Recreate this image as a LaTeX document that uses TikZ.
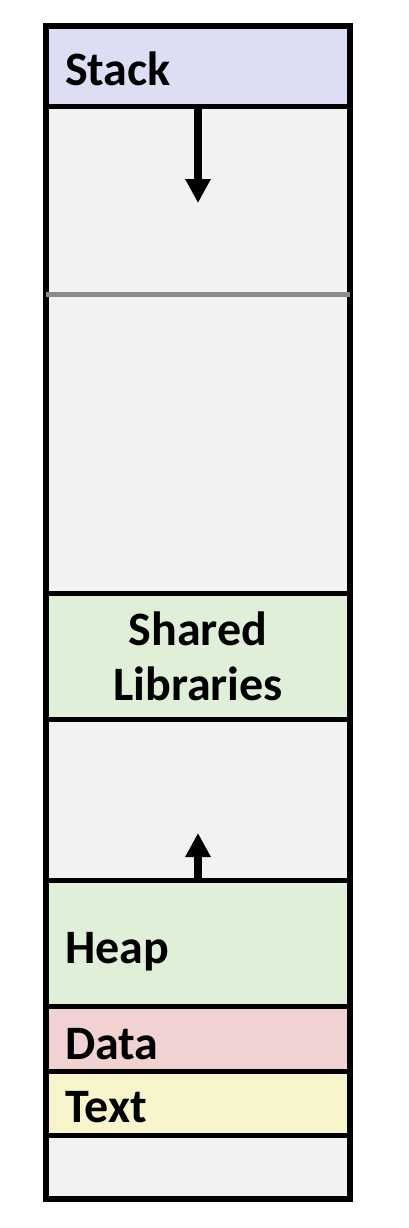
\documentclass[tikz,border=0pt]{standalone}
\usepackage{fontspec}
\setmainfont{Carlito}
\usetikzlibrary{arrows.meta}
\definecolor{stackc}{RGB}{221,221,243}
\definecolor{freec}{RGB}{242,242,242}
\definecolor{greenc}{RGB}{223,239,216}
\definecolor{datac}{RGB}{241,210,211}
\definecolor{textc}{RGB}{248,244,204}
\definecolor{markc}{RGB}{140,140,140}
\begin{document}
\begin{tikzpicture}[x=1pt,y=-1pt,
  seg/.style={draw=black, line width=5pt, inner sep=0pt, outer sep=0pt, minimum width=304pt, anchor=north west},
  lbl/.style={font=\fontsize{48}{55}\selectfont\bfseries, inner sep=0pt, outer sep=0pt},
  growarrow/.style={line width=8.5pt, -{Triangle[width=24pt,length=24pt]}}]
\useasboundingbox (0,0) rectangle (408,1228);
\node[seg, fill=stackc, minimum height=81pt] (stack) at (46,26) {};
\node[seg, fill=freec, minimum height=486pt] (gapA) at (46,107) {};
\node[seg, fill=greenc, minimum height=126pt] (shared) at (46,593) {};
\node[seg, fill=freec, minimum height=161pt] (gapB) at (46,719) {};
\node[seg, fill=greenc, minimum height=126pt] (heap) at (46,880) {};
\node[seg, fill=datac, minimum height=65pt] (data) at (46,1006) {};
\node[seg, fill=textc, minimum height=64pt] (text) at (46,1071) {};
\node[seg, fill=freec, minimum height=64pt] (bottom) at (46,1135) {};
\draw[line width=5.5pt] (stack.north west) rectangle (bottom.south east);
% limit line
\coordinate (limL) at (46,294);
\coordinate (limR) at (350,294);
\draw[markc, line width=5pt] (limL) -- (limR);
% arrows
\coordinate (stackTip) at (198,203);
\coordinate (heapTip) at (198,833);
\draw[growarrow] (stack.south -| stackTip) -- (stackTip);
\draw[growarrow] (heap.north -| heapTip) -- (heapTip);
% labels
\node[lbl, anchor=base west] (lStack) at (65,86) {Stack};
\node[lbl, anchor=base] (lShared) at (198,645) {Shared};
\node[lbl, anchor=base] (lLib) at (198,700) {Libraries};
\node[lbl, anchor=base west] (lHeap) at (65,963) {Heap};
\node[lbl, anchor=base west] (lData) at (65,1059) {Data};
\node[lbl, anchor=base west] (lText) at (65,1122) {Text};
\end{tikzpicture}
\end{document}
